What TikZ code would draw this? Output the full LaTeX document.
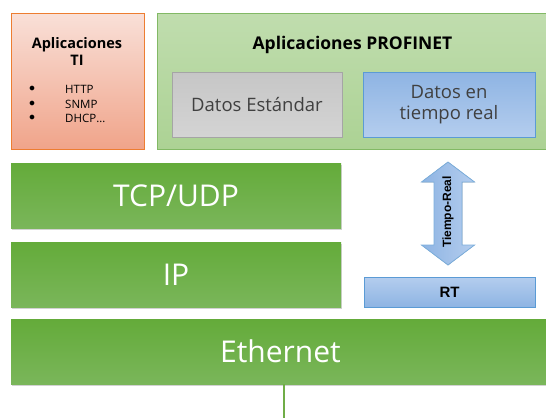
\documentclass[tikz,border=0pt]{standalone}
\usepackage{fontspec}
\setmainfont{Open Sans}
\newfontfamily\arialf{Liberation Sans}
\usetikzlibrary{shadows}
\definecolor{orgb}{HTML}{ED7D31}
\definecolor{orgt}{HTML}{F9E0D8}
\definecolor{orgbt}{HTML}{F0A48A}
\definecolor{pgb}{HTML}{82B965}
\definecolor{pgt}{HTML}{C0DDAE}
\definecolor{pgbt}{HTML}{ACD294}
\definecolor{gryb}{HTML}{A5A5A5}
\definecolor{gryt}{HTML}{C6C6C6}
\definecolor{grybt}{HTML}{D4D4D4}
\definecolor{blub}{HTML}{5B9BD5}
\definecolor{blut}{HTML}{8EB4E3}
\definecolor{blubt}{HTML}{B4CDEE}
\definecolor{lyt}{HTML}{64AB3A}
\definecolor{lyb}{HTML}{7AB65A}
\definecolor{lnc}{HTML}{70AD47}
\definecolor{txt}{HTML}{404040}
\begin{document}
\begin{tikzpicture}[x=1pt,y=-1pt,
  box/.style={draw, line width=1pt, inner sep=0pt},
  layer/.style={inner sep=0pt, top color=lyt, bottom color=lyb, text=white,
    drop shadow={shadow xshift=1pt, shadow yshift=-1.5pt, opacity=0.35},
    font=\fontsize{30}{34}\selectfont},
  bul/.style={anchor=west, inner sep=0pt, font=\fontsize{11.5}{13}\selectfont}
]
\useasboundingbox (0,0) rectangle (546,418);
\clip (0,0) rectangle (546,418);
\fill[white] (0,0) rectangle (546,418);
% Aplicaciones TI
\node[box, draw=orgb, top color=orgt, bottom color=orgbt, minimum width=133pt, minimum height=136pt] (ti) at (78,81) {};
\node[font=\bfseries\fontsize{14.5}{17}\selectfont, align=center, inner sep=0pt] (tit) at (77,51.5) {Aplicaciones\\TI};
\node[bul] (b1) at (29,89) {$\bullet$};
\node[bul] (b2) at (29,104) {$\bullet$};
\node[bul] (b3) at (29,118) {$\bullet$};
\node[bul] (h1) at (65,89) {HTTP};
\node[bul] (h2) at (65,104) {SNMP};
\node[bul] (h3) at (65,118) {DHCP…};
% Aplicaciones PROFINET
\node[box, draw=pgb, top color=pgt, bottom color=pgbt, minimum width=403pt, minimum height=136pt] (pf) at (358.5,81) {};
\node[font=\bfseries\fontsize{17.5}{20}\selectfont, inner sep=0pt] (pft) at (352.5,45) {Aplicaciones PROFINET};
\node[box, draw=gryb, top color=gryt, bottom color=grybt, minimum width=170pt, minimum height=65pt,
  font=\fontsize{18.5}{21}\selectfont, text=txt] (ds) at (257,104.5) {Datos Estándar};
\node[box, draw=blub, top color=blut, bottom color=blubt, minimum width=172pt, minimum height=65pt,
  font=\fontsize{18.5}{21}\selectfont, align=center, text=txt] (dt) at (449,104.5) {Datos en\\tiempo real};
% layers
\node[layer, minimum width=330pt, minimum height=65pt] (tcp) at (176,195.5) {TCP/UDP};
\node[layer, minimum width=330pt, minimum height=65pt] (ip) at (176,274.5) {IP};
\node[layer, minimum width=539pt, minimum height=65pt] (eth) at (280.5,351.5) {Ethernet};
\node[box, draw=blub, top color=blubt, bottom color=blut, minimum width=171pt, minimum height=30pt,
  font=\arialf\bfseries\fontsize{15}{17}\selectfont] (rt) at (449.5,292) {RT};
% arrow
\filldraw[draw=blub!80, line width=0.8pt, left color=blut, right color=blubt]
  (448,162) -- (474.5,182) -- (462,182) -- (462,245) -- (474.5,245) -- (448,265)
  -- (421.5,245) -- (434,245) -- (434,182) -- (421.5,182) -- cycle;
\node[rotate=90, font=\arialf\bfseries\fontsize{12}{13}\selectfont, inner sep=0pt] (tr) at (448,212) {Tiempo-Real};
% line
\coordinate (bot) at (284,418);
\draw[lnc, line width=2pt] (eth.south -| bot) -- (bot);
\end{tikzpicture}
\end{document}
